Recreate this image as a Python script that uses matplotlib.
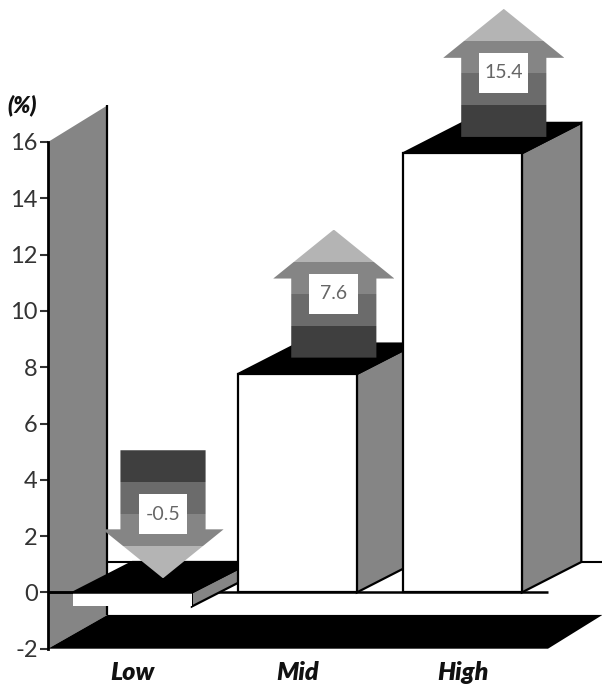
import matplotlib
matplotlib.use('Agg')
import matplotlib.pyplot as plt
from matplotlib.patches import Polygon, Rectangle

plt.rcParams['font.family'] = ['Lato', 'DejaVu Sans']
plt.rcParams['axes.unicode_minus'] = False

categories = ['Low', 'Mid', 'High']
values = [-0.5, 7.6, 15.4]          # printed on the arrows
bar_heights = [-0.5, 7.76, 15.6]    # as drawn, slightly above the printed values
y_ticks = [-2, 0, 2, 4, 6, 8, 10, 12, 14, 16]
arrow_offsets = [0.5, 0.58, 0.58]   # gap between bar top and arrow
arrow_shift = [0.185, 0.22, 0.25]

# style
GRAY = '#858585'
BAND_COLORS = ['#b4b4b4', '#858585', '#6b6b6b', '#3f3f3f']  # tip to tail
DX, DY = 0.36, 1.08      # depth of the bars
WALL_DY = 1.2            # depth of wall and floor
BAR_W = 0.72
XMIN, XMAX = -0.512, 2.518
XEND = 2.845             # right edge of picture
LW = 1.6

fig = plt.figure(figsize=(6.02, 6.88), dpi=100)
ax = fig.add_axes([48 / 602, 1 - 648.7 / 688, 500 / 602, (648.7 - 142) / 688])
ax.set_xlim(XMIN, XMAX)
ax.set_ylim(-2, 16)


def poly(pts, fc, ec='none', lw=0, z=2):
    ax.add_patch(Polygon(pts, closed=True, fc=fc, ec=ec, lw=lw, zorder=z,
                         clip_on=False, joinstyle='miter'))


def line(xs, ys, lw=LW, z=2):
    ax.plot(xs, ys, color='black', lw=lw, zorder=z, clip_on=False,
            solid_capstyle='butt')


def draw_arrow(xc, y_base, value, z):
    # y_base is the tail, the tip sits 4.55 units away in the arrow's direction
    sign = 1 if value >= 0 else -1
    length, head, shaft_w, head_w = 4.55, 1.74, 0.258, 0.367
    neck = y_base + sign * (length - head)
    tip = y_base + sign * length
    shape = Polygon([(xc - shaft_w, y_base), (xc + shaft_w, y_base), (xc + shaft_w, neck),
                     (xc + head_w, neck), (xc, tip), (xc - head_w, neck), (xc - shaft_w, neck)],
                    closed=True, transform=ax.transData)
    band = length / 4
    for i, col in enumerate(BAND_COLORS):
        y0 = tip - sign * band * i
        r = Rectangle((xc - head_w, min(y0, y0 - sign * band)), 2 * head_w, band,
                      fc=col, ec='none', zorder=z, transform=ax.transData)
        r.set_clip_path(shape)
        ax.add_patch(r)
    yc = y_base + sign * length / 2
    ax.add_patch(Rectangle((xc - 0.148, yc - 0.71), 0.296, 1.42, fc='white', ec='none',
                           zorder=z + 0.1, clip_on=False))
    ax.text(xc, yc, str(value), ha='center', va='center', fontsize=14, color='#666666',
            zorder=z + 0.2)


# left wall, floor
poly([(XMIN, -2), (XMIN + DX, -2 + WALL_DY), (XMIN + DX, 16 + WALL_DY + 0.1), (XMIN, 16)], GRAY)
line([XMIN + DX, XMIN + DX], [-2 + WALL_DY, 16 + WALL_DY + 0.1])
poly([(XMIN, -2), (XMAX, -2), (XMAX + DX - 0.03, -2 + WALL_DY), (XMIN + DX, -2 + WALL_DY)], 'black', z=2.5)

# back line and zero line
line([XMIN + DX, XEND], [DY, DY], lw=1.5, z=1.5)
line([XMIN, XMAX], [0, 0], lw=1.8, z=2.2)

# bars, left to right so each one hides the side of the previous one
for i, (cat, h) in enumerate(zip(categories, bar_heights)):
    z = 3 + i
    x0 = i - BAR_W / 2
    x1 = i + BAR_W / 2
    top = max(h, 0)
    bottom = min(h, 0)
    # side
    poly([(x1, bottom), (x1 + DX, bottom + DY), (x1 + DX, top + DY), (x1, top)], GRAY, 'black', LW, z)
    # top
    poly([(x0, top), (x1, top), (x1 + DX, top + DY), (x0 + DX, top + DY)], 'black', 'black', LW, z + 0.1)
    # front
    if h >= 0:
        poly([(x0, bottom), (x1, bottom), (x1, top), (x0, top)], 'white', 'black', LW, z + 0.2)
    else:
        poly([(x0, bottom), (x1, bottom), (x1, top), (x0, top)], 'white', z=z + 0.2)

line([XMIN, 0 + BAR_W / 2], [0, 0], lw=1.8, z=3.5)

# arrows
for i, (v, h) in enumerate(zip(values, bar_heights)):
    draw_arrow(i + arrow_shift[i], max(h, 0) + arrow_offsets[i] + (4.55 if v < 0 else 0), v, 8 + i)

# axes
for s in ['top', 'right', 'bottom']:
    ax.spines[s].set_visible(False)
ax.spines['left'].set_linewidth(2)
ax.spines['left'].set_zorder(9)
ax.set_yticks(y_ticks)
ax.set_xticks(range(len(categories)))
ax.set_xticklabels(categories, fontsize=18, fontweight='heavy', fontstyle='italic', color='#111111')
ax.tick_params(axis='x', length=0, pad=9)
ax.tick_params(axis='y', length=6, width=1.5, labelsize=17, pad=1.5, colors='#333333')
ax.patch.set_visible(False)

fig.text(7 / 602, 1 - 105 / 688, '(%)', fontsize=16, fontweight='heavy', fontstyle='italic',
         va='center', ha='left', color='#111111')

fig.savefig('out.png', dpi=100)
